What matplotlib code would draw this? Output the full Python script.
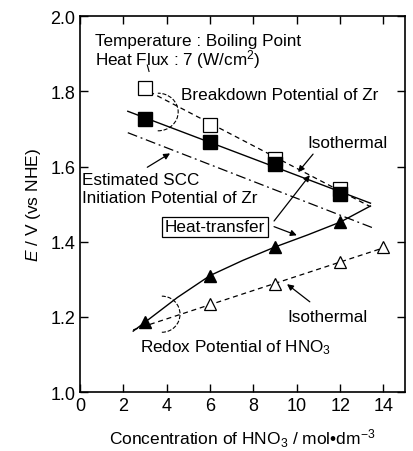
import numpy as np
import matplotlib
matplotlib.use("Agg")
import matplotlib.pyplot as plt
from matplotlib.patches import Arc

plt.rcParams["font.family"] = ["Liberation Sans", "DejaVu Sans"]
plt.rcParams["mathtext.fontset"] = "custom"
plt.rcParams["mathtext.rm"] = "Liberation Sans"
plt.rcParams["mathtext.it"] = "Liberation Sans:italic"

# breakdown potential of Zr
conc_sq = [3, 6, 9, 12]
e_heat_sq = [1.726, 1.665, 1.607, 1.527]
e_iso_sq = [1.81, 1.71, 1.62, 1.54]
# redox potential of HNO3
conc_tri_heat = [3, 6, 9, 12]
e_heat_tri = [1.186, 1.31, 1.386, 1.452]
conc_tri_iso = [6, 9, 12, 14]
e_iso_tri = [1.234, 1.287, 1.345, 1.385]
# hand-drawn heat-transfer redox curve
curve_x = [2.45, 3, 4.5, 6, 7.5, 9, 10.5, 12, 13.4]
curve_y = [1.162, 1.186, 1.252, 1.31, 1.35, 1.386, 1.418, 1.452, 1.495]
# estimated SCC initiation potential (dash-dot line ends)
scc_x = [2.2, 13.5]
scc_y = [1.69, 1.437]

fig = plt.figure(figsize=(4.13, 4.52), dpi=100)
ax = fig.add_axes([0.194, 0.1305, 0.787, 0.8315])

# fitted lines
xs = np.linspace(2.2, 13.4, 50)
p = np.polyfit(conc_sq, e_heat_sq, 1)
ax.plot(xs, np.polyval(p, xs), "k-", lw=1.0)
xs = np.linspace(3.2, 13.4, 50)
p = np.polyfit(conc_sq, e_iso_sq, 1)
ax.plot(xs, np.polyval(p, xs), "k--", lw=0.9, dashes=(4, 3))
ax.plot(scc_x, scc_y, "k-.", lw=0.9, dashes=(8, 3, 1.5, 3))
ax.plot(curve_x, curve_y, "k-", lw=1.0)
xs = np.linspace(2.45, 14, 60)
p = np.polyfit(conc_tri_iso, e_iso_tri, 1)
ax.plot(xs, np.polyval(p, xs), "k--", lw=0.9, dashes=(4, 3))

# markers
ax.plot(conc_sq, e_iso_sq, "s", ms=10, mfc="white", mec="black", mew=0.9)
ax.plot(conc_sq, e_heat_sq, "s", ms=10, mfc="black", mec="black")
ax.plot(conc_tri_heat, e_heat_tri, "^", ms=9, mfc="black", mec="black")
ax.plot(conc_tri_iso, e_iso_tri, "^", ms=9, mfc="white", mec="black", mew=0.9)

ax.set_xlim(0, 15)
ax.set_ylim(1.0, 2.0)
ax.set_xticks(range(0, 15, 2))
ax.set_yticks(np.arange(1.0, 2.01, 0.2))
ax.set_yticklabels(["1.0", "1.2", "1.4", "1.6", "1.8", "2.0"])
ax.tick_params(direction="in", top=True, right=True, length=6, width=1.0,
               labelsize=13)
for s in ax.spines.values():
    s.set_linewidth(1.2)

ax.set_xlabel("Concentration of HNO$_3$ / mol\u2022dm$^{-3}$", fontsize=12.5,
              labelpad=9)
ax.set_ylabel("$E$ / V (vs NHE)", fontsize=12.5, labelpad=5)

fs = 12.3
ax.text(0.7, 1.934, "Temperature : Boiling Point", fontsize=fs, va="center")
ax.text(0.7, 1.886, "Heat Flux : 7 (W/cm$^2$)", fontsize=fs, va="center")
ax.text(4.65, 1.792, "Breakdown Potential of Zr", fontsize=fs, va="center")
ax.text(0.1, 1.566, "Estimated SCC", fontsize=fs, va="center")
ax.text(0.1, 1.518, "Initiation Potential of Zr", fontsize=fs, va="center")
ax.text(3.9, 1.44, "Heat-transfer", fontsize=fs, va="center",
        bbox=dict(boxstyle="square,pad=0.15", fc="white", ec="black", lw=0.9))
ax.text(10.5, 1.665, "Isothermal", fontsize=fs, va="center")
ax.text(9.55, 1.2, "Isothermal", fontsize=fs, va="center")
ax.text(2.75, 1.122, "Redox Potential of HNO$_3$", fontsize=fs, va="center")

arw = dict(arrowstyle="-|>", color="black", lw=0.9, mutation_scale=9,
           shrinkA=0, shrinkB=0)
ax.annotate("", xy=(10.06, 1.585), xytext=(10.75, 1.633), arrowprops=arw)
ax.annotate("", xy=(4.15, 1.635), xytext=(3.1, 1.598), arrowprops=arw)
ax.annotate("", xy=(10.6, 1.577), xytext=(8.95, 1.455), arrowprops=arw)
ax.annotate("", xy=(10.0, 1.417), xytext=(8.95, 1.44), arrowprops=arw)
ax.annotate("", xy=(9.55, 1.287), xytext=(10.6, 1.24), arrowprops=arw)

# dashed arcs grouping curves
ax.add_patch(Arc((3.6, 1.745), 1.85, 0.1, theta1=-110, theta2=105, ls="--",
                 lw=0.8, color="black"))
ax.plot([3.1, 3.18], [1.87, 1.853], "k-", lw=0.8)
ax.add_patch(Arc((3.78, 1.207), 1.66, 0.096, theta1=-100, theta2=100, ls="--",
                 lw=0.8, color="black"))

fig.savefig("out.png", dpi=100)
